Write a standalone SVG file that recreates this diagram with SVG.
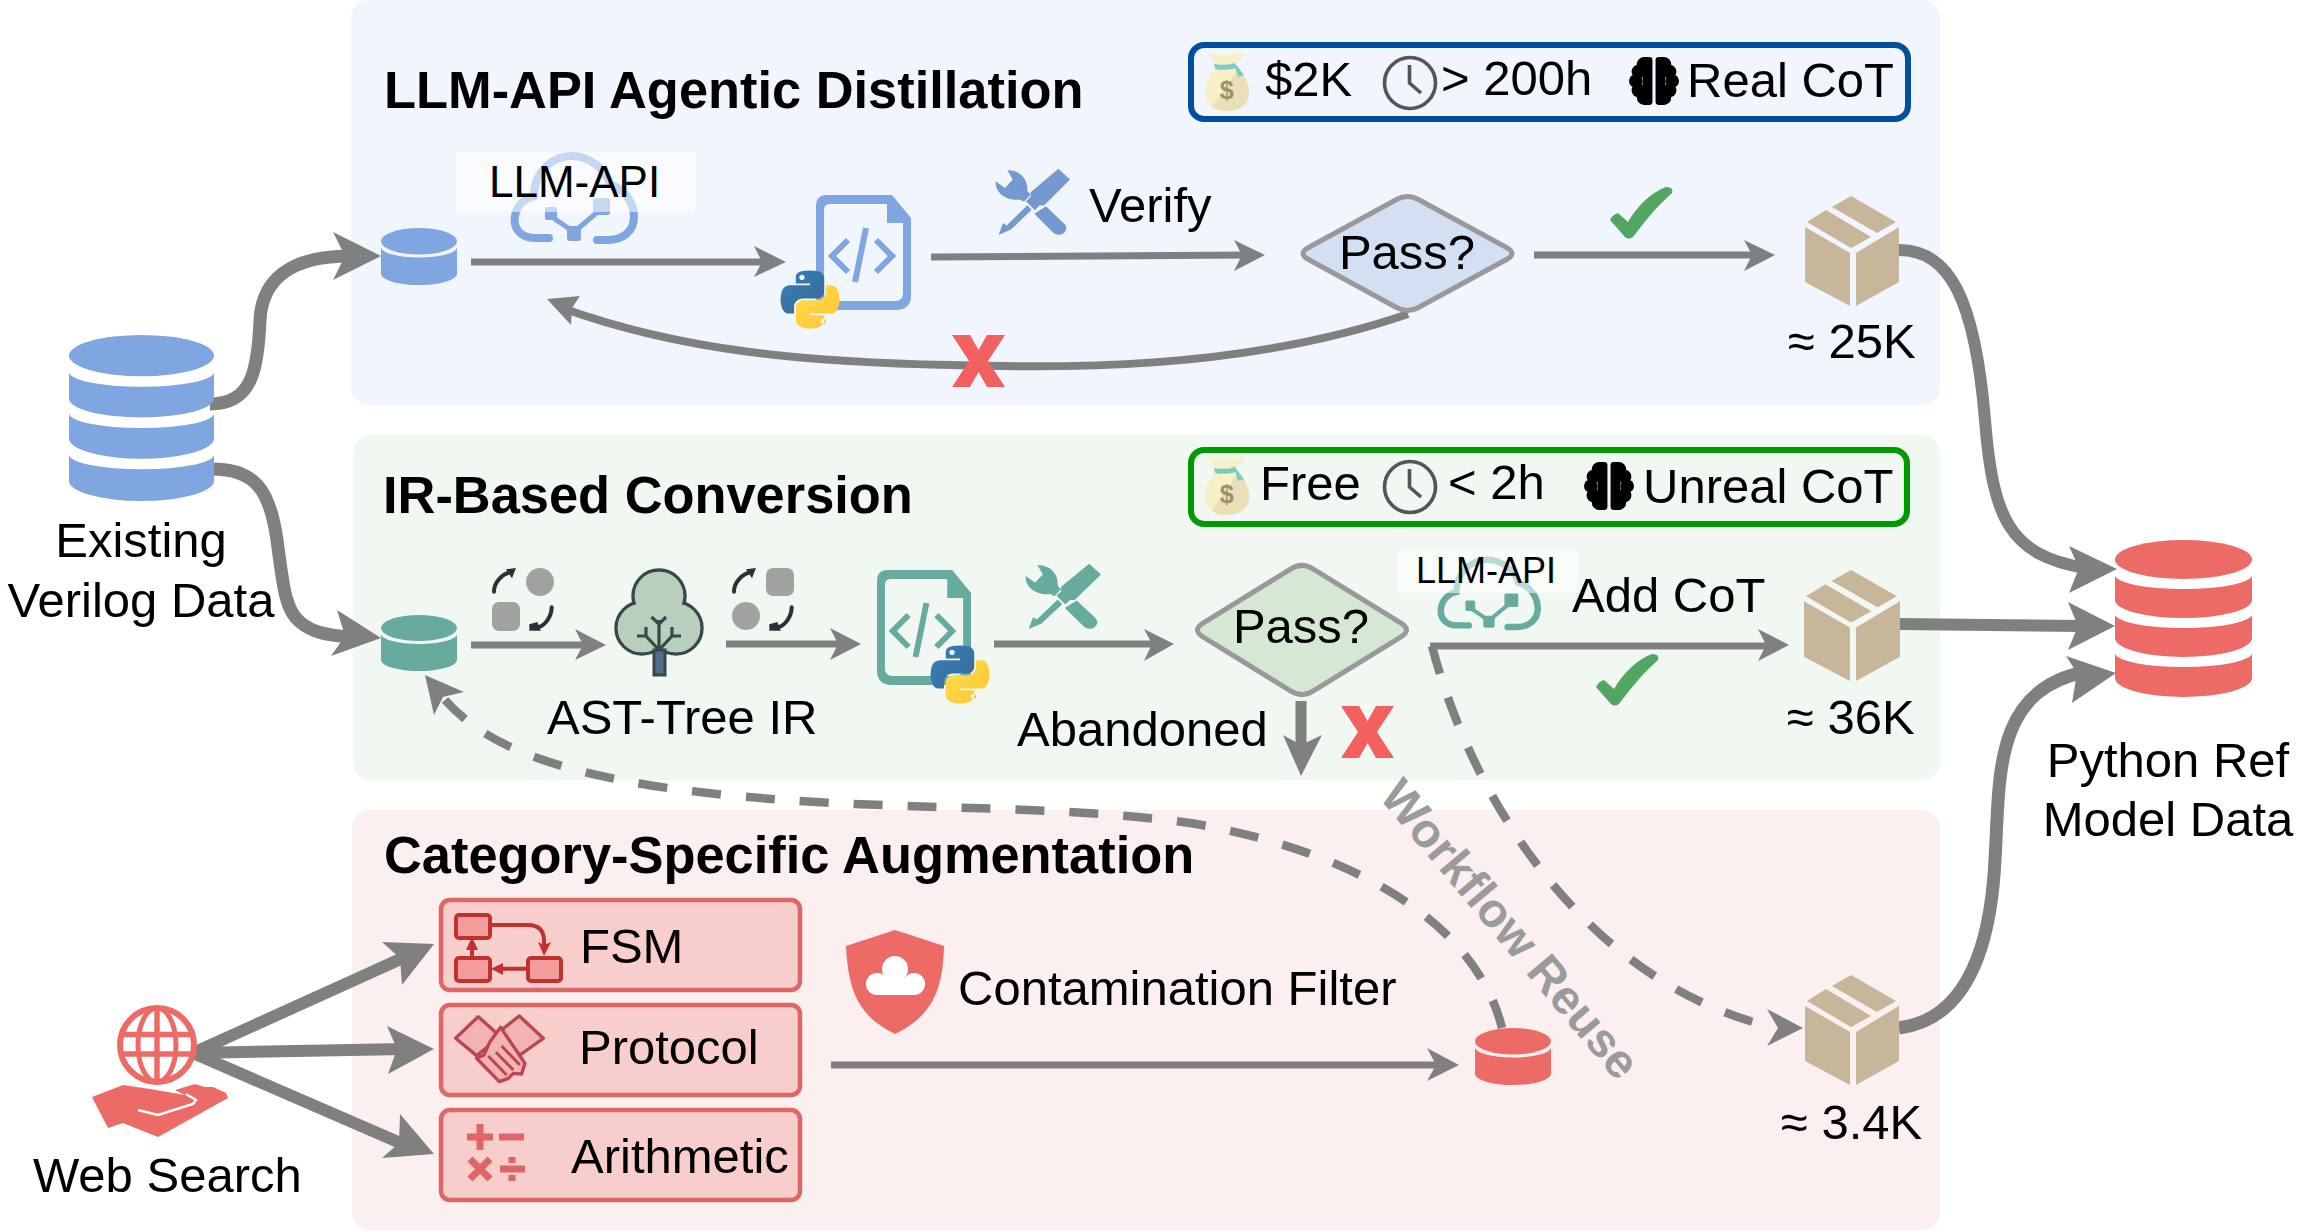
<svg xmlns="http://www.w3.org/2000/svg" xmlns:xlink="http://www.w3.org/1999/xlink" width="2313" height="1232" viewBox="0 0 2313 1232">
<style>
text{font-family:"Liberation Sans",Arial,sans-serif;fill:#000}
.t{font-size:49px}
.h1{font-size:52.400px;font-weight:bold}
.c{fill:none;stroke:#808080}
.w7{stroke-width:7}
.w12{stroke-width:12}
.w13{stroke-width:13}
.d{stroke-width:8.5;stroke-dasharray:29 25}
.h{fill:#808080}
.x{fill:#f26060}
.st{stroke-width:6;stroke-linejoin:round}
.lab{fill:#fff;fill-opacity:.55}
.cat{fill:#f8cecc;stroke:#de6766;stroke-width:4.5}
.clockc{fill:none;stroke:#555;stroke-width:3.6}
.gray{fill:#a1a3a2}
.arc{fill:none;stroke:#2b3136;stroke-width:12;stroke-linecap:round}
.arh{fill:#2b3136}
.fsm{fill:#f39c9c;stroke:#c0322e;stroke-width:4}
.fsml{fill:none;stroke:#c0322e;stroke-width:4}
.fsmh{fill:#c0322e}
.shk{fill:#f4b3b3;stroke:#b8474f;stroke-width:10;stroke-linejoin:round}
.shl{fill:none;stroke:#b8474f;stroke-width:9}
.math{stroke:#e06666;stroke-width:7;fill:none}
</style>
<defs>
<linearGradient id="pyb" x1="0" y1="0" x2="1" y2="1"><stop offset="0" stop-color="#3a80bb"/><stop offset="1" stop-color="#366a95"/></linearGradient>
<linearGradient id="pyy" x1="0" y1="0" x2="1" y2="1"><stop offset="0" stop-color="#ffe052"/><stop offset="1" stop-color="#ffc331"/></linearGradient>
<symbol id="db3" viewBox="0 0 137 157" preserveAspectRatio="none">
<g fill="currentColor"><ellipse cx="68.5" cy="19.5" rx="68.5" ry="19.5"/><path d="M0,35A68.5,14 0 0 0 137,35V60A68.5,18 0 0 1 0,60Z"/><path d="M0,74A68.5,14 0 0 0 137,74V98A68.5,19 0 0 1 0,98Z"/><path d="M0,113A68.5,14 0 0 0 137,113V138A68.5,19 0 0 1 0,138Z"/></g>
</symbol>
<symbol id="db1" viewBox="0 0 75 56" preserveAspectRatio="none">
<g fill="currentColor"><ellipse cx="37.5" cy="13" rx="37.5" ry="13"/><path d="M0,19A37.5,10 0 0 0 75,19V45A37.5,11 0 0 1 0,45Z"/></g>
</symbol>
<symbol id="cube" viewBox="0 0 94 110" preserveAspectRatio="none">
<g fill="#c7b699"><path d="M46,0L91,26L72,37L27,11Z"/><path d="M21,14L66,41L46,52L2,26Z"/><path d="M0,31L45,57V110L0,86Z"/><path d="M94,31L51,57V110L94,86Z"/></g>
</symbol>
<symbol id="file" viewBox="816 195 95 115" preserveAspectRatio="none">
<path fill="currentColor" fill-rule="evenodd" d="M827,195H892L911,218V295Q911,310 896,310H831Q816,310 816,295V206Q816,195 827,195ZM830,204Q824,204 824,210V293Q824,301 832,301H895Q903,301 903,293V223H887V204Z"/>
<path fill="none" stroke="currentColor" stroke-width="6" d="M848,240L832,256L848,272M876,240L892,256L876,272M866,228L855,282"/>
</symbol>
<symbol id="py" viewBox="-1 -1 113 114" preserveAspectRatio="none">
<path fill="url(#pyb)" d="M54.919,0.001C50.335,0.022 45.958,0.413 42.106,1.095C30.76,3.099 28.7,7.295 28.7,15.032V25.25H55.513V28.656H18.637C10.845,28.656 4.022,33.34 1.888,42.25C-0.574,52.463 -0.683,58.836 1.888,69.5C3.794,77.438 8.345,83.094 16.138,83.094H25.356V70.844C25.356,61.994 33.013,54.188 42.106,54.188H68.888C76.342,54.188 82.294,48.05 82.294,40.563V15.032C82.294,7.766 76.164,2.307 68.888,1.095C64.282,0.328 59.503,-0.02 54.919,0.001ZM40.419,8.219C43.189,8.219 45.45,10.517 45.45,13.344C45.45,16.161 43.189,18.438 40.419,18.438C37.64,18.438 35.388,16.161 35.388,13.344C35.388,10.517 37.64,8.219 40.419,8.219Z"/>
<path fill="url(#pyy)" d="M85.638,28.657V40.563C85.638,49.793 77.812,57.563 68.888,57.563H42.106C34.77,57.563 28.7,63.841 28.7,71.188V96.719C28.7,103.985 35.018,108.259 42.106,110.344C50.594,112.84 58.733,113.291 68.888,110.344C75.638,108.389 82.294,104.456 82.294,96.719V86.501H55.513V83.094H95.7C103.492,83.094 106.396,77.659 109.106,69.5C111.905,61.1 111.787,53.022 109.106,42.25C107.18,34.494 103.502,28.657 95.7,28.657ZM80.638,93.313C83.417,93.313 85.669,95.591 85.669,98.407C85.669,101.235 83.417,103.532 80.638,103.532C77.868,103.532 75.606,101.235 75.606,98.407C75.606,95.591 77.868,93.313 80.638,93.313Z"/>
</symbol>
<symbol id="tools" viewBox="675 25 228 205" preserveAspectRatio="none">
<g fill="currentColor">
<path d="M712,32C750,30 775,60 772,95L782,105L762,127L750,120C715,125 675,105 677,65L705,85L728,60Z"/>
<path d="M828,140L885,195Q895,212 880,222Q865,232 850,220L793,163Z"/>
<path d="M865,27L900,60L822,138L808,138L795,152L768,125L782,112L782,98Z"/>
<path d="M772,137L785,151L724,210L686,227L699,191L710,198Z"/>
</g>
</symbol>
<symbol id="bag" viewBox="0 0 133 180" preserveAspectRatio="none">
<path fill="#f8f1c8" d="M12,2C30,12 45,14 65,8C85,14 100,8 120,2C115,20 100,35 90,42C115,60 133,95 133,125C133,160 105,180 66,180C28,180 0,160 0,125C0,95 20,60 40,42C30,32 15,20 12,2Z"/>
<path fill="#ebdfb9" d="M133,125C133,160 105,180 66,180C48,180 32,176 20,168L100,52C120,70 133,100 133,125Z"/>
<path fill="#7ccdc0" d="M28,38Q60,46 90,36L92,52Q60,60 30,54ZM85,30L118,72L100,78L92,52Z"/>
<text x="66" y="145" text-anchor="middle" font-size="76" font-weight="bold" style="fill:#97936b">$</text>
</symbol>
<symbol id="clock" viewBox="0 0 56 56">
<circle class="clockc" cx="28" cy="28" r="25.5"/><path class="clockc" d="M27.5,10V28L39,38"/>
</symbol>
<symbol id="brain" viewBox="0 0 48 48">
<g id="lobe"><rect x="13" y="1" width="9.500" height="46" rx="3"/><circle cx="14.500" cy="8" r="7"/><circle cx="9" cy="15" r="6.500"/><circle cx="6.500" cy="24" r="6.500"/><circle cx="9" cy="33" r="6.500"/><circle cx="14.500" cy="40" r="7"/></g>
<use href="#lobe" transform="matrix(-1 0 0 1 48 0)"/>
</symbol>
<symbol id="cloud" viewBox="510 150 128 95" preserveAspectRatio="none">
<g fill="none" stroke="currentColor" stroke-width="8" stroke-linecap="round"><path d="M549,238H535C520,238 513,228 515,216C517,204 526,198 534,196C534,172 552,156 572,156C590,156 606,170 610,184C626,190 634,204 634,217C634,232 622,240 608,240H597"/><path stroke-width="5" d="M552,217L574,232L600,210"/></g>
<g fill="currentColor"><rect x="545" y="207" width="12" height="13" rx="2"/><rect x="593" y="198" width="17" height="17" rx="2"/><rect x="567" y="226" width="14" height="15" rx="3"/></g>
</symbol>
<path id="check" fill="#52a662" d="M1610,220Q1612,215 1618,213L1628,222C1638,205 1652,192 1666,187Q1674,187 1672,193C1655,208 1642,225 1633,237Q1628,240 1625,237Z"/>
<path id="xm" d="M0,0H18L26.500,15L35,0H53L36,26L53,52H35L26.500,37L18,52H0L17,26Z"/>
<g id="arcs"><path class="arc" d="M42,95C42,65 68,42 92,36"/><path class="arh" d="M78,28L108,24L96,55Z"/><path class="arc" d="M215,142C215,170 195,198 172,202"/><path class="arh" d="M148,193L148,212L182,212L172,186Z"/></g>
</defs>

<g id="panels">
<rect x="351" y="0" width="1589" height="405" rx="18" fill="#f1f5fd"/>
<rect x="353" y="435" width="1587" height="345" rx="18" fill="#f1f8f2"/>
<rect x="352" y="810" width="1588" height="420" rx="18" fill="#fbf0ef"/>
<text class="h1" x="384" y="108">LLM-API Agentic Distillation</text>
<text class="h1" x="383" y="513">IR-Based Conversion</text>
<text class="h1" x="384" y="873">Category-Specific Augmentation</text>
</g>

<g id="connectors">
<path class="c w13" d="M210,404C252,404 258,370 260,320C262,280 290,256 350,256"/><path class="h" d="M381,256L333,232L345,256L333,280Z"/>
<path class="c w13" d="M212,469C255,469 270,490 277,540C283,585 285,610 300,622C312,632 325,635 350,637"/><path class="h" d="M381,638L337,610L345,636L331,656Z"/>
<path class="c w7" d="M471,262H770"/><path class="h" d="M786,262L754,246L762,262L754,277Z"/>
<path class="c w7" d="M931,257L1250,255"/><path class="h" d="M1265,255L1234,240L1242,255L1234,271Z"/>
<path class="c w7" d="M1534,255H1760"/><path class="h" d="M1775,255L1744,240L1752,255L1744,271Z"/>
<path class="c" stroke-width="8" d="M1408,314C1240,372 1050,368 950,365C800,362 680,350 565,309"/><path class="h" d="M547,299L580,296L572,308L571,325Z"/>
<path class="c w7" d="M471,645H590"/><path class="h" d="M606,645L575,629L583,645L575,660Z"/>
<path class="c w7" d="M726,644H845"/><path class="h" d="M861,644L830,628L838,644L830,660Z"/>
<path class="c w7" d="M994,644H1155"/><path class="h" d="M1174,644L1144,629L1152,644L1144,661Z"/>
<path class="c w7" d="M1430,646H1770"/><path class="h" d="M1789,645L1758,629L1766,645L1758,661Z"/>
<path class="c d" d="M1432,646C1468,785 1575,980 1775,1028"/><path class="h" d="M1803,1028L1767,1009L1778,1028L1767,1046Z"/>
<path class="c" stroke-width="11" d="M1301,701V745"/><path class="h" d="M1301,776L1283,735L1301,745L1322,735Z"/>
<path class="c w12" d="M1899,250C1950,250 1975,300 1985,420C1993,520 2010,555 2085,568"/><path class="h" d="M2117,569L2069,546L2079,568L2069,593Z"/>
<path class="c w12" d="M1899,624L2085,626"/><path class="h" d="M2115,626L2068,602L2078,626L2068,650Z"/>
<path class="c w13" d="M1899,1028C1960,1020 1990,960 1995,860C2000,780 1992,690 2085,672"/><path class="h" d="M2116,673L2066,656L2077,673L2072,703Z"/>
<path class="c d" d="M1502,1028C1475,920 1350,850 1190,823C1020,800 850,815 654,786C560,770 490,750 445,700"/><path class="h" d="M425,675L464,692L443,697L434,715Z"/>
<path class="c w12" d="M193,1053L405,957"/><path class="h" d="M434,944L382,942L400,958L402,985Z"/>
<path class="c w12" d="M193,1053L405,1049"/><path class="h" d="M434,1049L387,1026L397,1049L388,1074Z"/>
<path class="c w12" d="M193,1053L405,1145"/><path class="h" d="M434,1154L400,1114L399,1143L382,1158Z"/>
<path class="c w7" d="M831,1065H1440"/><path class="h" d="M1459,1065L1427,1048L1436,1065L1427,1081Z"/>
</g>

<g id="existing-db"><use href="#db3" x="69" y="335" width="145" height="166" style="color:#7fa6e0"/><text class="t" x="141" y="557" text-anchor="middle">Existing</text><text class="t" x="141" y="617" text-anchor="middle">Verilog Data</text></g>
<g id="llm-db"><use href="#db1" x="381" y="228" width="76" height="57" style="color:#7fa6e0"/></g>
<g id="llm-api"><use href="#cloud" x="510" y="150" width="128" height="95" style="color:#7fa6e0"/><rect class="lab" x="456" y="152" width="239" height="60"/><text x="489" y="197" font-size="44">LLM-API</text></g>
<g id="llm-code"><use href="#file" x="816" y="195" width="95" height="115" style="color:#7fa6e0"/><use href="#py" x="780" y="270" width="60" height="59"/></g>
<g id="llm-verify"><use href="#tools" x="995" y="168" width="76" height="68" style="color:#7499d0"/><text class="t" x="1089" y="222">Verify</text></g>
<g id="llm-pass"><path d="M1396.500,199.500Q1407.500,193.500 1418.500,199.500L1506.500,247.500Q1517.500,253.500 1506.500,259.500L1418.500,307.500Q1407.500,313.500 1396.500,307.500L1308.500,259.500Q1297.500,253.500 1308.500,247.500Z" fill="#d3e0f3" stroke="#999" stroke-width="5"/><text class="t" x="1407" y="269" text-anchor="middle">Pass?</text></g>
<use href="#check"/>
<use href="#xm" class="x" x="952" y="335"/>
<g id="llm-out"><use href="#cube" x="1805" y="196" width="94" height="110"/><text class="t" x="1788" y="358">≈ 25K</text></g>
<g id="llm-status"><rect x="1191" y="45" width="717" height="74" rx="13" fill="#f1f5fd" stroke="#004f9f" class="st"/><use href="#bag" x="1205" y="51" width="44" height="60"/><text class="t" x="1265" y="96">$2K</text><use href="#clock" x="1382" y="55" width="56" height="56"/><text class="t" x="1441" y="95">&gt; 200h</text><use href="#brain" x="1628" y="56" width="52" height="50"/><text class="t" x="1687" y="97">Real CoT</text></g>

<g id="ir-db"><use href="#db1" x="381" y="615" width="76" height="56" style="color:#67ab9f"/></g>
<g id="ir-ex1"><circle class="gray" cx="540" cy="582" r="14"/><rect class="gray" x="492" y="602" width="28" height="29" rx="7"/><use href="#arcs" transform="translate(480,560) scale(.3333)"/></g>
<g id="ir-tree">
<g fill="#b7cfbb" stroke="#37474a" stroke-width="3.400"><circle cx="659" cy="596" r="26"/><circle cx="642" cy="628" r="26"/><circle cx="676" cy="628" r="26"/></g>
<g fill="#b7cfbb"><circle cx="659" cy="596" r="24.300"/><circle cx="642" cy="628" r="24.300"/><circle cx="676" cy="628" r="24.300"/></g>
<rect x="654" y="650" width="11" height="25" fill="#4f6f8a" stroke="#37474a" stroke-width="3"/>
<path fill="none" stroke="#37474a" stroke-width="3.200" d="M659,650V620M659,624L651.500,617M659,624L666,617M659,650L646,636V627M646,636H637M659,650L672,636V627M672,636H681"/>
<text x="547" y="734" class="t">AST-Tree IR</text>
</g>
<g id="ir-ex2"><rect class="gray" x="766" y="568" width="28" height="28" rx="7"/><circle class="gray" cx="746" cy="616" r="14"/><use href="#arcs" transform="translate(720,560) scale(.3333)"/></g>
<g id="ir-code"><use href="#file" x="877" y="570" width="94" height="115" style="color:#67ab9f"/><use href="#py" x="930" y="645" width="60" height="59"/></g>
<g id="ir-verify"><use href="#tools" x="1025" y="563" width="77" height="67" style="color:#67ab9f"/></g>
<g id="ir-pass"><path d="M1291,568.800Q1302,562 1313,568.800L1401,623.200Q1412,630 1401,636.800L1313,691.200Q1302,698 1291,691.200L1203,636.800Q1192,630 1203,623.200Z" fill="#d5e8d4" stroke="#999" stroke-width="5"/><text class="t" x="1301" y="643" text-anchor="middle">Pass?</text></g>
<g id="ir-llm"><use href="#cloud" x="1437" y="555" width="104" height="76" style="color:#67ab9f"/><rect class="lab" x="1398" y="550" width="180" height="43"/><text x="1416" y="583" font-size="36">LLM-API</text><text class="t" x="1572" y="612">Add CoT</text></g>
<use href="#check" transform="translate(-14,467)"/>
<g id="ir-abandon"><text class="t" x="1017" y="746">Abandoned</text><use href="#xm" class="x" x="1341" y="706"/></g>
<g id="ir-out"><use href="#cube" x="1804" y="570" width="96" height="111"/><text class="t" x="1787" y="734">≈ 36K</text></g>
<g id="ir-status"><rect x="1191" y="450" width="716" height="74" rx="13" fill="#f1f8f2" stroke="#090" class="st"/><use href="#bag" x="1205" y="455" width="44" height="60"/><text class="t" x="1260" y="500">Free</text><use href="#clock" x="1382" y="459" width="56" height="56"/><text class="t" x="1448" y="499">&lt; 2h</text><use href="#brain" x="1583" y="461" width="52" height="50"/><text class="t" x="1643" y="503">Unreal CoT</text></g>

<g id="web-search">
<circle cx="157" cy="1045" r="37" fill="none" stroke="#ec6b67" stroke-width="6"/>
<ellipse cx="157" cy="1045" rx="19" ry="37" fill="none" stroke="#ec6b67" stroke-width="5"/>
<path fill="none" stroke="#ec6b67" stroke-width="5.500" d="M157,1008V1082M122,1034.500H192M122,1054H192"/>
<path fill="#ec6b67" d="M92,1097L123,1085L150,1089L185,1095L175,1090L195,1084L205,1087L213,1087L226,1093L228,1098L158,1137L123,1123L108,1128Z"/>
<path fill="none" stroke="#fff" stroke-width="2.500" d="M138,1110L158,1115L193,1104L196,1100L186,1094"/>
<text class="t" x="33" y="1192">Web Search</text>
</g>
<g id="cat-fsm"><rect class="cat" x="441" y="900" width="359" height="90" rx="9"/>
<rect class="fsm" x="456" y="915" width="34" height="23" rx="3"/><rect class="fsm" x="456" y="958" width="34" height="23" rx="3"/><rect class="fsm" x="528" y="958" width="33" height="23" rx="3"/>
<path class="fsml" d="M490,925H528Q544,925 544,941V948M528,968.700H500M472,958V945"/>
<path class="fsmh" d="M544,956L538,942L544,945L551,942ZM491,968.700L503,963V975ZM472,937L466,950H478Z"/>
<text class="t" x="580" y="963">FSM</text></g>
<g id="cat-protocol"><rect class="cat" x="441" y="1005" width="359" height="90" rx="9"/>
<g transform="translate(80,890) scale(.3333)">
<path class="shk" d="M1127,445L1195,380L1262,440L1190,497Z"/>
<path class="shk" d="M1318,378L1390,445L1320,495L1258,425Z"/>
<path class="shk" d="M1262,412L1335,520L1325,552L1300,550L1285,565L1258,575L1190,505L1212,495L1230,455Z"/>
<path class="shl" d="M1225,498L1280,555M1248,487L1300,540M1265,468L1320,525"/>
</g>
<text class="t" x="579" y="1064">Protocol</text></g>
<g id="cat-arith"><rect class="cat" x="441" y="1110" width="359" height="90" rx="9"/>
<path class="math" d="M467,1137H493M480,1124V1150M499,1137H524M470,1159L490,1179M490,1159L470,1179M500,1169H525M512,1157V1163M512,1175V1181"/>
<text class="t" x="571" y="1173">Arithmetic</text></g>
<g id="filter"><path fill="#ec6b67" d="M895,930L944,946C943,985 935,1015 895,1034C855,1015 848,985 846,946Z"/>
<g fill="#fff"><circle cx="895" cy="969" r="13"/><circle cx="877" cy="984" r="11"/><circle cx="914" cy="984" r="11"/><rect x="877" y="978" width="37" height="17"/></g>
<text class="t" x="958" y="1005">Contamination Filter</text></g>
<g id="cat-db"><use href="#db1" x="1475" y="1028" width="76" height="57" style="color:#ec6b67"/></g>
<g id="cat-out"><use href="#cube" x="1805" y="975" width="94" height="110"/><text class="t" x="1781" y="1139">≈ 3.4K</text></g>
<g id="python-db"><use href="#db3" x="2115" y="540" width="137" height="157" style="color:#ec6b67"/><text class="t" x="2168" y="777" text-anchor="middle">Python Ref</text><text class="t" x="2168" y="836" text-anchor="middle">Model Data</text></g>
<text x="1378" y="797" transform="rotate(50 1378 797)" font-size="48" font-weight="bold" style="fill:#9b9b9b">Workflow Reuse</text>
</svg>
